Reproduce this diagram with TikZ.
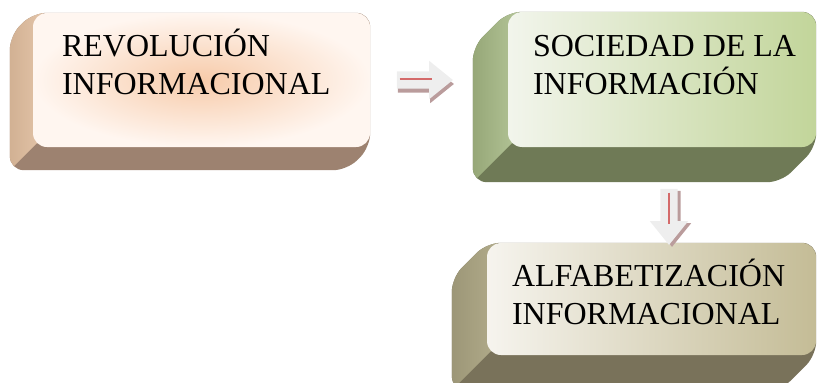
\documentclass[tikz,border=0pt]{standalone}
\usepackage{fontspec}
\setmainfont{Liberation Serif}
\usetikzlibrary{calc,shapes.arrows,shadows,backgrounds}

\definecolor{revin}{HTML}{F7CBAA}
\definecolor{revout}{HTML}{FFF6F0}
\definecolor{revbot}{HTML}{9D8270}
\definecolor{revsideA}{HTML}{CFAE90}
\definecolor{revsideB}{HTML}{E3C4A8}
\definecolor{socA}{HTML}{F2F5EC}
\definecolor{socB}{HTML}{C2D59A}
\definecolor{socbot}{HTML}{6F7A56}
\definecolor{socsideA}{HTML}{93A474}
\definecolor{socsideB}{HTML}{B3C497}
\definecolor{alfA}{HTML}{F6F4EE}
\definecolor{alfB}{HTML}{C4BC96}
\definecolor{alfbot}{HTML}{79725A}
\definecolor{alfsideA}{HTML}{9A9475}
\definecolor{alfsideB}{HTML}{B1AB8A}
\definecolor{arrowgray}{HTML}{EEEEEE}
\definecolor{arrowshade}{HTML}{BA9C9C}
\definecolor{arrowred}{HTML}{D46A6A}

\tikzset{
  face/.style={rectangle, rounded corners=14pt, inner sep=0pt},
  boxtext/.style={anchor=base west, align=left, inner sep=0pt, font=\fontsize{32}{38}\selectfont},
  blockarrow/.style={single arrow, fill=arrowgray, inner xsep=0pt, inner ysep=8.5pt,
    minimum height=56pt, single arrow head extend=10.5pt, single arrow tip angle=78},
  redline/.style={arrowred, line width=1.5pt}
}

% extruded side of a box: name, depth, bottom, side colours
\newcommand{\extrude}[5]{%
  \fill[#3, rounded corners=14pt] (#1.north west) -- (#1.north east) -- (#1.south east)
    -- ($(#1.south east)+(-#2,#2)$) -- ($(#1.south west)+(-#2,#2)$) -- ($(#1.north west)+(-#2,#2)$) -- cycle;
  \begin{scope}
    \clip[rounded corners=14pt] (#1.north west) -- (#1.north east) -- (#1.south east)
      -- ($(#1.south east)+(-#2,#2)$) -- ($(#1.south west)+(-#2,#2)$) -- ($(#1.north west)+(-#2,#2)$) -- cycle;
    \shade[left color=#4, right color=#5] ($(#1.north west)+(-#2-5,-5)$) -- ($(#1.north west)+(10,-5)$)
      -- ($(#1.south west)+(10,-10)$) -- ($(#1.south west)+(-#2-5,#2+5)$) -- cycle;
  \end{scope}}

\begin{document}
\begin{tikzpicture}[x=1pt,y=-1pt]
\useasboundingbox (0,0) rectangle (817,383);

% front faces
\node[face, minimum width=337pt, minimum height=134pt, inner color=revin, outer color=revout] (rev) at (201.5,80) {};
\node[face, minimum width=308pt, minimum height=135pt, left color=socA, right color=socB] (soc) at (662,79.5) {};
\node[face, minimum width=329pt, minimum height=112pt, left color=alfA, right color=alfB] (alf) at (651.5,299) {};

% extrusions
\begin{scope}[on background layer]
\extrude{rev}{23}{revbot}{revsideA}{revsideB}
\extrude{soc}{35}{socbot}{socsideA}{socsideB}
\extrude{alf}{35}{alfbot}{alfsideA}{alfsideB}
\end{scope}

% labels
\node[boxtext] (revtext) at ($(rev.north west)+(29,82)$) {REVOLUCIÓN\\INFORMACIONAL};
\node[boxtext] (soctext) at ($(soc.north west)+(25,83)$) {SOCIEDAD DE LA\\INFORMACIÓN};
\node[boxtext] (alftext) at ($(alf.north west)+(25,82)$) {ALFABETIZACIÓN\\INFORMACIONAL};

% arrows between boxes
\node[blockarrow, drop shadow={shadow xshift=1pt, shadow yshift=-4pt, fill=arrowshade, opacity=1}] (right) at (419.5,80) {};
\draw[redline] ([xshift=-20pt,yshift=1pt]right.center) -- ([xshift=12pt,yshift=1pt]right.center);
\node[blockarrow, rotate=-90, drop shadow={shadow xshift=3pt, shadow yshift=-2pt, fill=arrowshade, opacity=1}] (down) at (669,211.5) {};
\draw[redline] ([yshift=19pt]down.center) -- ([yshift=-12pt]down.center);
\end{tikzpicture}
\end{document}
